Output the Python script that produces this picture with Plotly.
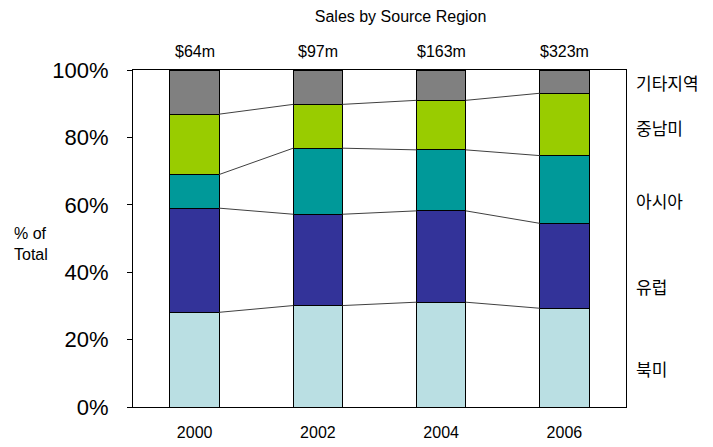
import plotly.graph_objects as go

years = ["2000", "2002", "2004", "2006"]
totals = ["$64m", "$97m", "$163m", "$323m"]
regions = ["북미", "유럽", "아시아", "중남미", "기타지역"]
north_america = [28.1, 30.1, 31.1, 29.3]
europe = [30.9, 27.1, 27.1, 25.2]
asia = [10.0, 19.6, 18.1, 20.1]
latin_america = [17.9, 13.0, 14.7, 18.5]
other = [13.1, 10.2, 9.0, 6.9]
series = [north_america, europe, asia, latin_america, other]
colors = ["#BADFE3", "#333399", "#009999", "#99CC00", "#808080"]
y_ticks = [0, 20, 40, 60, 80, 100]
label_y = [11.3, 35.9, 61.4, 82.8, 96.4]  # vertical placement of the right-hand labels

x = list(range(len(years)))
bar_w = 0.4
latin = "Liberation Sans, Arial"

fig = go.Figure()
for name, vals, c in zip(regions, series, colors):
    fig.add_trace(go.Bar(x=x, y=vals, name=name, width=bar_w,
                         marker=dict(color=c, line=dict(color="black", width=1)),
                         showlegend=False, hoverinfo="skip"))

# connector lines between stacked boundaries
cum = [0.0] * len(years)
lx, ly = [], []
for vals in series[:-1]:
    cum = [a + b for a, b in zip(cum, vals)]
    for i in range(len(years) - 1):
        lx += [x[i] + bar_w / 2, x[i + 1] - bar_w / 2, None]
        ly += [cum[i], cum[i + 1], None]
fig.add_trace(go.Scatter(x=lx, y=ly, mode="lines", line=dict(color="#404040", width=1),
                         showlegend=False, hoverinfo="skip"))

annots = []
for xi, t in zip(x, totals):
    annots.append(dict(x=xi, y=1, xref="x", yref="paper", text=t, showarrow=False,
                       yanchor="bottom", yshift=8,
                       font=dict(size=16, family=latin, color="black")))
for name, yy in zip(regions, label_y):
    annots.append(dict(x=1, y=yy, xref="paper", yref="y", text=name, showarrow=False,
                       xanchor="left", xshift=8,
                       font=dict(size=17, family="Noto Sans CJK KR", color="black")))
annots.append(dict(x=0, y=50, xref="paper", yref="y", text="% of<br>Total", showarrow=False,
                   xanchor="left", align="left", xshift=-121, yshift=-5,
                   font=dict(size=16, family=latin, color="black")))

fig.update_layout(
    barmode="stack",
    width=713, height=447,
    margin=dict(l=133, r=87, t=70, b=40),
    paper_bgcolor="white", plot_bgcolor="white",
    title=dict(text="Sales by Source Region", x=387 / 713, xref="paper", xanchor="center",
               y=0.975, yanchor="top",
               font=dict(size=16, family=latin, color="black")),
    annotations=annots,
    xaxis=dict(tickmode="array", tickvals=x, ticktext=years, range=[-0.5, len(years) - 0.5],
               showline=True, linecolor="black", linewidth=1, mirror=True, ticks="",
               showgrid=False, zeroline=False, ticklabelstandoff=11, automargin=False,
               tickfont=dict(size=16, family=latin, color="black")),
    yaxis=dict(range=[0, 100], tickmode="array", tickvals=y_ticks,
               ticktext=[f"{v}%" for v in y_ticks],
               showline=True, linecolor="black", linewidth=1, mirror=True,
               ticks="outside", ticklen=5, tickcolor="black", ticklabelstandoff=14,
               showgrid=False, zeroline=False, automargin=False,
               tickfont=dict(size=22, family=latin, color="black")),
)

fig.write_html("out.html", config={"displayModeBar": False},
               post_script="document.body.style.margin='0';")
